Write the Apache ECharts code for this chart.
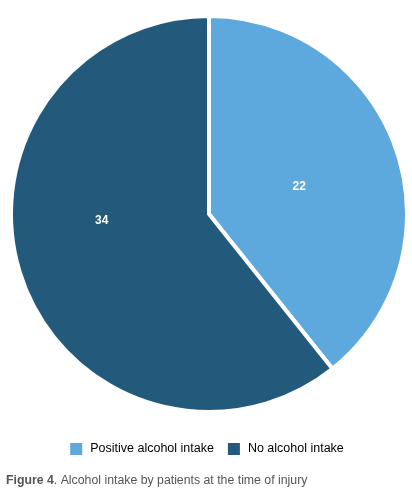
<!DOCTYPE html>
<html>
<head>
<meta charset="utf-8">
<script src="https://cdn.jsdelivr.net/npm/echarts@6/dist/echarts.min.js"></script>
<style>
  html, body { margin: 0; padding: 0; background: #fff; }
  #chart { width: 412px; height: 494px; }
</style>
</head>
<body>
<div id="chart"></div>
<script>
// Данные
const categories = ['Positive alcohol intake', 'No alcohol intake']
const patientCounts = [22, 34]
const sliceColors = ['#5DA8DD', '#235A7C']

const font = '"Liberation Sans", Arial, sans-serif'
const chart = echarts.init(document.getElementById('chart'))

chart.setOption({
  animation: false,
  backgroundColor: '#fff',
  textStyle: { fontFamily: font },
  title: {
    text: '{b|Figure 4}. Alcohol intake by patients at the time of injury',
    left: 1,
    top: 470,
    textStyle: {
      fontSize: 12.3,
      fontWeight: 'normal',
      color: '#555',
      fontFamily: font,
      rich: {
        b: { fontSize: 12.3, fontWeight: 'bold', color: '#555', fontFamily: font }
      }
    }
  },
  legend: {
    top: 436,
    left: 'center',
    icon: 'rect',
    itemWidth: 14,
    itemHeight: 14,
    itemGap: 12,
    textStyle: { fontSize: 12.5, color: '#000', fontFamily: font, padding: [0, 0, 0, 2] },
    data: categories
  },
  series: [{
    type: 'pie',
    center: [209, 214],
    radius: [0, 198],
    startAngle: 90,
    clockwise: true,
    label: {
      show: true,
      position: 'inside',
      formatter: '{c}',
      color: '#fff',
      fontSize: 12,
      fontWeight: 'bold',
      fontFamily: font
    },
    labelLine: { show: false },
    itemStyle: { borderColor: '#fff', borderWidth: 4 },
    emphasis: { disabled: true },
    labelLayout: (params) => params.dataIndex === 1 ? { dx: -11, dy: -27 } : { dx: -6, dy: 6 },
    data: categories.map((name, i) => ({
      name,
      value: patientCounts[i],
      itemStyle: { color: sliceColors[i] }
    }))
  }]
})
</script>
</body>
</html>
